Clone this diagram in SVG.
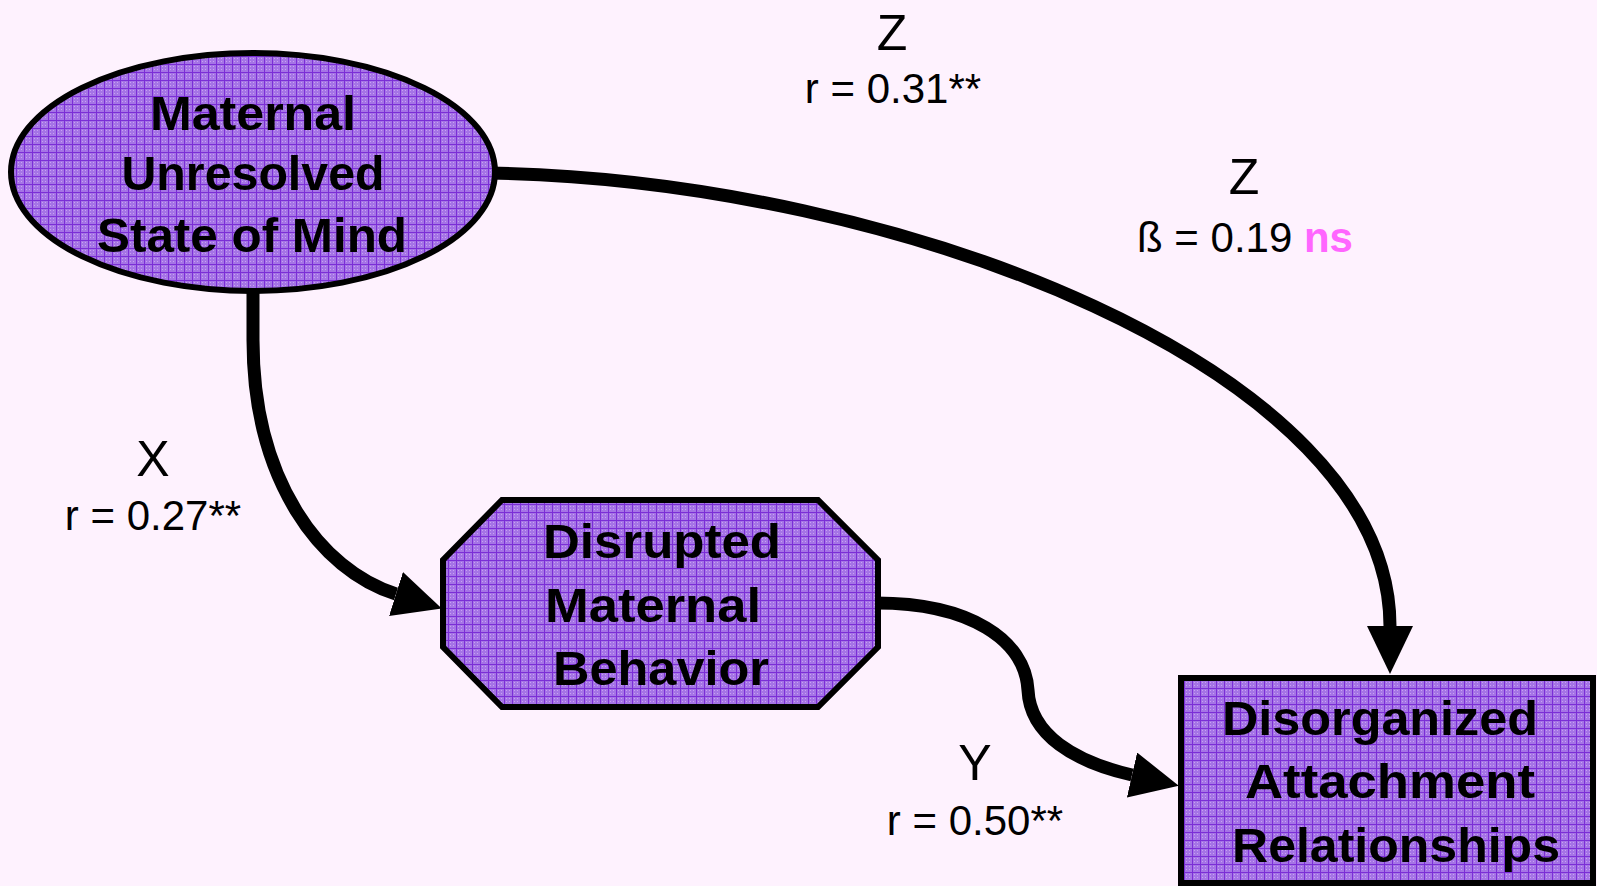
<svg xmlns="http://www.w3.org/2000/svg" width="1597" height="886" viewBox="0 0 1597 886">
<style>
.node{fill:url(#grid);stroke:#000;stroke-width:6}
.lbl{font-family:"Liberation Sans",Arial,sans-serif;font-size:42px;fill:#000;text-anchor:middle}
.big{font-size:50px}
.nt{font-family:"Liberation Sans",Arial,sans-serif;font-weight:bold;font-size:48px;fill:#000;text-anchor:middle}
.conn{fill:none;stroke:#000;stroke-width:13}
.ns{fill:#FF66FF;font-weight:bold}
</style>
<defs>
<pattern id="grid" width="8" height="8" patternUnits="userSpaceOnUse">
<rect width="8" height="8" fill="#A574E6"/>
<rect x="2" y="2" width="1" height="1" fill="#C9A2F2"/>
<rect x="5" y="5" width="1" height="1" fill="#C9A2F2"/>
<rect x="5" y="2" width="1" height="1" fill="#C9A2F2"/>
<rect x="2" y="5" width="1" height="1" fill="#C9A2F2"/>
<rect x="0" y="0" width="8" height="1" fill="#7B2ED6"/>
<rect x="0" y="0" width="1" height="8" fill="#7B2ED6"/>
</pattern>
<marker id="arr" markerUnits="userSpaceOnUse" viewBox="0 0 48 46" refX="0" refY="23" markerWidth="48" markerHeight="46" orient="auto">
<path d="M0,0 L48,23 L0,46 Z" fill="#000"/>
</marker>
</defs>
<rect width="1597" height="886" fill="#FEF2FE"/>
<g id="connectors">
<path class="conn" d="M253 290 L253 340 C253 480 320 570 396 594" marker-end="url(#arr)"/>
<path class="conn" d="M490 173 C900 180 1390 370 1390 626" marker-end="url(#arr)"/>
<path class="conn" d="M876 603 C970 603 1025 640 1028 690 C1030 735 1075 762 1132 775" marker-end="url(#arr)"/>
</g>
<g id="maternal-unresolved">
<ellipse class="node" cx="253" cy="172" rx="242" ry="119"/>
<text class="nt" x="253" y="130" textLength="206" lengthAdjust="spacingAndGlyphs">Maternal</text>
<text class="nt" x="253" y="190" textLength="263" lengthAdjust="spacingAndGlyphs">Unresolved</text>
<text class="nt" x="252" y="252" textLength="310" lengthAdjust="spacingAndGlyphs">State of Mind</text>
</g>
<g id="disrupted-behavior">
<polygon class="node" points="502,500 818,500 878,560 878,647 818,707 502,707 443,647 443,560"/>
<text class="nt" x="662" y="558" textLength="238" lengthAdjust="spacingAndGlyphs">Disrupted</text>
<text class="nt" x="653" y="622" textLength="216" lengthAdjust="spacingAndGlyphs">Maternal</text>
<text class="nt" x="661" y="685" textLength="216" lengthAdjust="spacingAndGlyphs">Behavior</text>
</g>
<g id="disorganized-attachment">
<rect class="node" x="1181" y="678" width="412" height="205"/>
<text class="nt" x="1380" y="735" textLength="316" lengthAdjust="spacingAndGlyphs">Disorganized</text>
<text class="nt" x="1390" y="798" textLength="290" lengthAdjust="spacingAndGlyphs">Attachment</text>
<text class="nt" x="1396" y="862" textLength="328" lengthAdjust="spacingAndGlyphs">Relationships</text>
</g>
<g id="labels">
<text class="lbl big" x="892" y="50">Z</text>
<text class="lbl" x="893" y="103">r = 0.31**</text>
<text class="lbl big" x="1244" y="194">Z</text>
<text class="lbl" x="1245" y="252">ß = 0.19 <tspan class="ns">ns</tspan></text>
<text class="lbl big" x="153" y="476">X</text>
<text class="lbl" x="153" y="530">r = 0.27**</text>
<text class="lbl big" x="975" y="780">Y</text>
<text class="lbl" x="975" y="835">r = 0.50**</text>
</g>
</svg>
